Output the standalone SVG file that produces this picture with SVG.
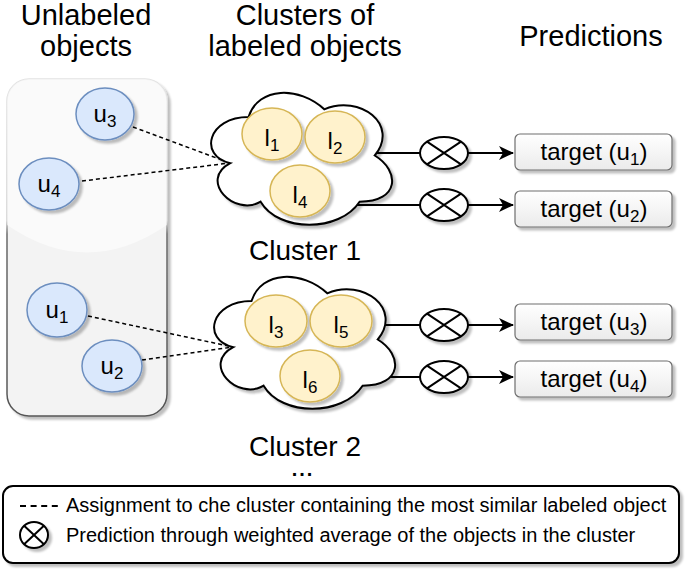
<svg xmlns="http://www.w3.org/2000/svg" width="685" height="572" viewBox="0 0 685 572">
<style>
text{font-family:"Liberation Sans",Arial,sans-serif;fill:#000}
.hdr{font-size:29px;text-anchor:middle}
.cl{font-size:28px;text-anchor:middle}
.lbl{font-size:24px;text-anchor:middle}
.sub{font-size:17px}
.tgt{font-size:24px;text-anchor:middle}
.leg{font-size:20px}
.uel{fill:#dae8fc;stroke:#6c8ebf;stroke-width:1.5}
.lel{fill:#fff2cc;stroke:#d6b656;stroke-width:1.5}
.cloud{fill:#fff;stroke:#000;stroke-width:2}
.dash{fill:none;stroke:#000;stroke-width:1.5;stroke-dasharray:4 3}
.conn{fill:none;stroke:#000;stroke-width:2}
.xel{fill:#fff;stroke:#000;stroke-width:2}
.xl{stroke:#000;stroke-width:2}
.box{fill:url(#boxg);stroke:#6e6e6e;stroke-width:1.2}
</style>
<defs>
<filter id="sh" x="-20%" y="-20%" width="150%" height="150%">
<feGaussianBlur in="SourceAlpha" stdDeviation="1.2"/>
<feOffset dx="3" dy="3" result="o"/>
<feFlood flood-color="#000" flood-opacity="0.25"/>
<feComposite in2="o" operator="in"/>
<feMerge><feMergeNode/><feMergeNode in="SourceGraphic"/></feMerge>
</filter>
<linearGradient id="boxg" x1="0" y1="0" x2="0" y2="1">
<stop offset="0" stop-color="#ffffff"/><stop offset="1" stop-color="#ebebeb"/>
</linearGradient>
<linearGradient id="panelStroke" x1="0" y1="0" x2="0" y2="1">
<stop offset="0" stop-color="#e2e2e2"/><stop offset="0.42" stop-color="#cfcfcf"/><stop offset="0.46" stop-color="#6a6a6a"/><stop offset="1" stop-color="#555"/>
</linearGradient>
<clipPath id="panelClip"><rect x="7" y="79" width="160" height="337" rx="22"/></clipPath>
<marker id="arr" markerWidth="16" markerHeight="14" refX="14" refY="7" orient="auto" markerUnits="userSpaceOnUse">
<path d="M0,0 L15,7 L0,14 L4,7 Z" fill="#000"/>
</marker>
</defs>

<g id="headers">
<text class="hdr" x="86" y="25">Unlabeled</text>
<text class="hdr" x="86" y="56">objects</text>
<text class="hdr" x="305" y="25">Clusters of</text>
<text class="hdr" x="305" y="56">labeled objects</text>
<text class="hdr" x="591" y="46">Predictions</text>
</g>

<g id="panel">
<rect x="7" y="79" width="160" height="337" rx="22" fill="#f3f3f3" stroke="url(#panelStroke)" stroke-width="1.5" filter="url(#sh)"/>
<path d="M7,79 H167 V225 Q87,280 7,225 Z" fill="#ffffff" opacity="0.55" clip-path="url(#panelClip)"/>
</g>

<g id="connectors">
<path class="dash" d="M133,127 L230,163"/>
<path class="dash" d="M82,181 L230,163"/>
<path class="dash" d="M88,316 L233,347"/>
<path class="dash" d="M142,360 L233,347"/>
<path class="conn" d="M368,153 H420"/>
<path class="conn" d="M350,205 H420"/>
<path class="conn" d="M372,325 H420"/>
<path class="conn" d="M352,377 H420"/>
<path class="conn" d="M468,153 H513" marker-end="url(#arr)"/>
<path class="conn" d="M468,205 H513" marker-end="url(#arr)"/>
<path class="conn" d="M468,325 H513" marker-end="url(#arr)"/>
<path class="conn" d="M468,377 H513" marker-end="url(#arr)"/>
</g>

<g id="u3"><ellipse class="uel" cx="105" cy="114" rx="29" ry="26" filter="url(#sh)"/><text class="lbl" x="105" y="122">u<tspan class="sub" dy="5">3</tspan></text></g>
<g id="u4"><ellipse class="uel" cx="49" cy="184" rx="30" ry="26" filter="url(#sh)"/><text class="lbl" x="49" y="192">u<tspan class="sub" dy="5">4</tspan></text></g>
<g id="u1"><ellipse class="uel" cx="57" cy="310" rx="30" ry="27" filter="url(#sh)"/><text class="lbl" x="57" y="318">u<tspan class="sub" dy="5">1</tspan></text></g>
<g id="u2"><ellipse class="uel" cx="112" cy="366" rx="30" ry="26" filter="url(#sh)"/><text class="lbl" x="112" y="374">u<tspan class="sub" dy="5">2</tspan></text></g>

<g id="cluster1">
<path class="cloud" filter="url(#sh)" d="M248.5,117 C208.1,117 198,155.5 230.3,163.2 C198,180.1 234.4,217.1 260.6,201.7 C278.8,232.5 339.4,232.5 359.6,201.7 C400,201.7 400,170.9 374.75,155.5 C400,124.7 359.6,93.9 324.25,109.3 C299,86.2 258.6,86.2 248.5,117 Z"/>
<g id="l1"><ellipse class="lel" cx="272" cy="134" rx="30" ry="26" filter="url(#sh)"/><text class="lbl" x="272" y="146">l<tspan class="sub" dy="5">1</tspan></text></g>
<g id="l2"><ellipse class="lel" cx="335" cy="137" rx="30" ry="26" filter="url(#sh)"/><text class="lbl" x="335" y="149">l<tspan class="sub" dy="5">2</tspan></text></g>
<g id="l4"><ellipse class="lel" cx="300" cy="191" rx="30" ry="26" filter="url(#sh)"/><text class="lbl" x="300" y="203">l<tspan class="sub" dy="5">4</tspan></text></g>
<text class="cl" x="305" y="260">Cluster 1</text>
</g>

<g id="cluster2">
<path class="cloud" filter="url(#sh)" d="M251.5,301 C211.1,301 201,339.5 233.3,347.2 C201,364.1 237.4,401.1 263.6,385.7 C281.8,416.5 342.4,416.5 362.6,385.7 C403,385.7 403,354.9 377.75,339.5 C403,308.7 362.6,277.9 327.25,293.3 C302,270.2 261.6,270.2 251.5,301 Z"/>
<g id="l3"><ellipse class="lel" cx="276" cy="321" rx="31" ry="26" filter="url(#sh)"/><text class="lbl" x="276" y="333">l<tspan class="sub" dy="5">3</tspan></text></g>
<g id="l5"><ellipse class="lel" cx="341" cy="321" rx="31" ry="26" filter="url(#sh)"/><text class="lbl" x="341" y="333">l<tspan class="sub" dy="5">5</tspan></text></g>
<g id="l6"><ellipse class="lel" cx="310" cy="376" rx="30" ry="26" filter="url(#sh)"/><text class="lbl" x="310" y="388">l<tspan class="sub" dy="5">6</tspan></text></g>
<text class="cl" x="305" y="456">Cluster 2</text>
<text x="303" y="476" style="font-size:20px;font-weight:bold;letter-spacing:2px;text-anchor:middle">...</text>
</g>

<g id="cross1"><ellipse class="xel" cx="444" cy="153" rx="24" ry="16" filter="url(#sh)"/><path class="xl" d="M427,141.7 L461,164.3 M461,141.7 L427,164.3"/></g>
<g id="cross2"><ellipse class="xel" cx="444" cy="205" rx="24" ry="16" filter="url(#sh)"/><path class="xl" d="M427,193.7 L461,216.3 M461,193.7 L427,216.3"/></g>
<g id="cross3"><ellipse class="xel" cx="444" cy="325" rx="24" ry="16" filter="url(#sh)"/><path class="xl" d="M427,313.7 L461,336.3 M461,313.7 L427,336.3"/></g>
<g id="cross4"><ellipse class="xel" cx="444" cy="377" rx="24" ry="16" filter="url(#sh)"/><path class="xl" d="M427,365.7 L461,388.3 M461,365.7 L427,388.3"/></g>

<g id="target1"><rect class="box" x="515" y="134" width="157" height="36" rx="5" filter="url(#sh)"/><text class="tgt" x="594" y="160">target (u<tspan class="sub" dy="5">1</tspan><tspan dy="-5">)</tspan></text></g>
<g id="target2"><rect class="box" x="515" y="191" width="157" height="36" rx="5" filter="url(#sh)"/><text class="tgt" x="594" y="217">target (u<tspan class="sub" dy="5">2</tspan><tspan dy="-5">)</tspan></text></g>
<g id="target3"><rect class="box" x="515" y="304" width="157" height="36" rx="5" filter="url(#sh)"/><text class="tgt" x="594" y="330">target (u<tspan class="sub" dy="5">3</tspan><tspan dy="-5">)</tspan></text></g>
<g id="target4"><rect class="box" x="515" y="361" width="157" height="36" rx="5" filter="url(#sh)"/><text class="tgt" x="594" y="387">target (u<tspan class="sub" dy="5">4</tspan><tspan dy="-5">)</tspan></text></g>

<g id="legend">
<rect x="3" y="486" width="676" height="77" rx="10" fill="#fff" stroke="#000" stroke-width="2" filter="url(#sh)"/>
<path d="M20,506 H58" stroke="#000" stroke-width="2" stroke-dasharray="6 4.6"/>
<text class="leg" x="66" y="512">Assignment to che cluster containing the most similar labeled object</text>
<ellipse class="xel" cx="34" cy="535" rx="14" ry="13" filter="url(#sh)"/>
<path class="xl" d="M24.1,525.8 L43.9,544.2 M43.9,525.8 L24.1,544.2"/>
<text class="leg" x="66" y="542">Prediction through weighted average of the objects in the cluster</text>
</g>
</svg>
